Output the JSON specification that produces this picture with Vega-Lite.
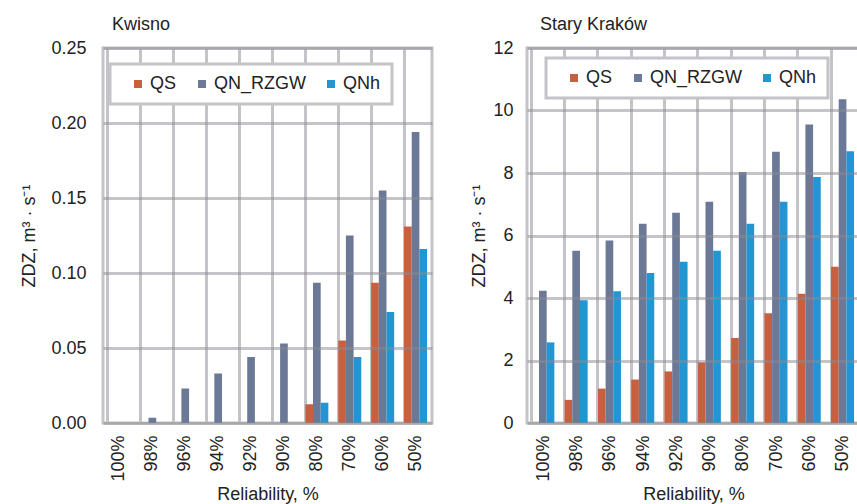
{
  "$schema": "https://vega.github.io/schema/vega-lite/v6.json",
  "padding": {"left": 19, "top": 14, "right": 0, "bottom": 0},
  "background": "white",
  "spacing": 35,
  "config": {
    "font": "Liberation Sans",
    "view": {"stroke": "#c4c4c8", "strokeWidth": 3},
    "axis": {
      "labelFont": "Liberation Sans",
      "titleFont": "Liberation Sans",
      "labelFontSize": 18,
      "titleFontSize": 18,
      "titleFontWeight": "normal",
      "labelColor": "#222",
      "titleColor": "#222",
      "ticks": false,
      "domain": false
    },
    "legend": {
      "labelFont": "Liberation Sans",
      "labelFontSize": 18,
      "labelColor": "#222",
      "strokeWidth": 3
    },
    "title": {"font": "Liberation Sans", "fontSize": 18, "fontWeight": "normal", "color": "#222", "anchor": "start", "frame": "group"}
  },
  "datasets": {
    "kwisno": [
      {"rel": "100%", "series": "QS", "value": 0},
      {"rel": "100%", "series": "QN_RZGW", "value": 0},
      {"rel": "100%", "series": "QNh", "value": 0},
      {"rel": "98%", "series": "QS", "value": 0},
      {"rel": "98%", "series": "QN_RZGW", "value": 0.0035},
      {"rel": "98%", "series": "QNh", "value": 0},
      {"rel": "96%", "series": "QS", "value": 0},
      {"rel": "96%", "series": "QN_RZGW", "value": 0.023},
      {"rel": "96%", "series": "QNh", "value": 0},
      {"rel": "94%", "series": "QS", "value": 0},
      {"rel": "94%", "series": "QN_RZGW", "value": 0.033},
      {"rel": "94%", "series": "QNh", "value": 0},
      {"rel": "92%", "series": "QS", "value": 0},
      {"rel": "92%", "series": "QN_RZGW", "value": 0.044},
      {"rel": "92%", "series": "QNh", "value": 0},
      {"rel": "90%", "series": "QS", "value": 0},
      {"rel": "90%", "series": "QN_RZGW", "value": 0.053},
      {"rel": "90%", "series": "QNh", "value": 0},
      {"rel": "80%", "series": "QS", "value": 0.0125},
      {"rel": "80%", "series": "QN_RZGW", "value": 0.0935},
      {"rel": "80%", "series": "QNh", "value": 0.0135},
      {"rel": "70%", "series": "QS", "value": 0.055},
      {"rel": "70%", "series": "QN_RZGW", "value": 0.125},
      {"rel": "70%", "series": "QNh", "value": 0.044},
      {"rel": "60%", "series": "QS", "value": 0.0935},
      {"rel": "60%", "series": "QN_RZGW", "value": 0.155},
      {"rel": "60%", "series": "QNh", "value": 0.074},
      {"rel": "50%", "series": "QS", "value": 0.131},
      {"rel": "50%", "series": "QN_RZGW", "value": 0.194},
      {"rel": "50%", "series": "QNh", "value": 0.116}
    ],
    "krakow": [
      {"rel": "100%", "series": "QS", "value": 0},
      {"rel": "100%", "series": "QN_RZGW", "value": 4.23},
      {"rel": "100%", "series": "QNh", "value": 2.58},
      {"rel": "98%", "series": "QS", "value": 0.74},
      {"rel": "98%", "series": "QN_RZGW", "value": 5.51},
      {"rel": "98%", "series": "QNh", "value": 3.93},
      {"rel": "96%", "series": "QS", "value": 1.1},
      {"rel": "96%", "series": "QN_RZGW", "value": 5.84},
      {"rel": "96%", "series": "QNh", "value": 4.22},
      {"rel": "94%", "series": "QS", "value": 1.39},
      {"rel": "94%", "series": "QN_RZGW", "value": 6.38},
      {"rel": "94%", "series": "QNh", "value": 4.8},
      {"rel": "92%", "series": "QS", "value": 1.65},
      {"rel": "92%", "series": "QN_RZGW", "value": 6.73},
      {"rel": "92%", "series": "QNh", "value": 5.16},
      {"rel": "90%", "series": "QS", "value": 1.94},
      {"rel": "90%", "series": "QN_RZGW", "value": 7.08},
      {"rel": "90%", "series": "QNh", "value": 5.51},
      {"rel": "80%", "series": "QS", "value": 2.72},
      {"rel": "80%", "series": "QN_RZGW", "value": 8.03},
      {"rel": "80%", "series": "QNh", "value": 6.38},
      {"rel": "70%", "series": "QS", "value": 3.51},
      {"rel": "70%", "series": "QN_RZGW", "value": 8.68},
      {"rel": "70%", "series": "QNh", "value": 7.08},
      {"rel": "60%", "series": "QS", "value": 4.14},
      {"rel": "60%", "series": "QN_RZGW", "value": 9.55},
      {"rel": "60%", "series": "QNh", "value": 7.87},
      {"rel": "50%", "series": "QS", "value": 5.0},
      {"rel": "50%", "series": "QN_RZGW", "value": 10.36},
      {"rel": "50%", "series": "QNh", "value": 8.7}
    ]
  },
  "resolve": {"scale": {"y": "independent", "color": "independent"}, "legend": {"color": "independent"}},
  "hconcat": [
    {
      "title": {"text": "Kwisno", "offset": 5, "dx": 9},
      "width": 329,
      "height": 375,
      "data": {"name": "kwisno"},
      "mark": {"type": "bar"},
      "encoding": {
        "x": {
          "field": "rel", "type": "nominal", "sort": null,
          "scale": {"paddingInner": 0.3, "paddingOuter": 0.15},
          "axis": {"title": "Reliability, %", "labelAngle": -90, "labelPadding": 12, "titlePadding": 4,
                   "grid": true, "bandPosition": 0, "gridColor": "#c4c4c8", "gridWidth": 3}
        },
        "xOffset": {"field": "series", "type": "nominal", "sort": ["QS", "QN_RZGW", "QNh"], "scale": {"paddingInner": 0}},
        "y": {
          "field": "value", "type": "quantitative",
          "scale": {"domain": [0, 0.25], "nice": false},
          "axis": {"title": "ZDZ, m³ · s⁻¹", "format": ".2f", "values": [0, 0.05, 0.1, 0.15, 0.2, 0.25],
                   "labelPadding": 17, "titlePadding": 12, "grid": true, "gridColor": "#8a8a94", "gridOpacity": 0.5, "gridWidth": 3, "zindex": 1}
        },
        "color": {
          "field": "series", "type": "nominal",
          "scale": {"domain": ["QS", "QN_RZGW", "QNh"], "range": ["#c8603f", "#6b7896", "#2196d3"]},
          "legend": {"title": null, "orient": "none", "legendX": 7, "legendY": 16, "direction": "horizontal",
                     "fillColor": "white", "strokeColor": "#c4c4c8", "padding": 11,
                     "symbolType": "square", "symbolSize": 64, "symbolStrokeWidth": 0, "columnPadding": 8, "labelOffset": 3, "symbolOffset": 8}
        }
      }
    },
    {
      "title": {"text": "Stary Kraków", "offset": 5, "dx": 13},
      "width": 333,
      "height": 375,
      "data": {"name": "krakow"},
      "mark": {"type": "bar"},
      "encoding": {
        "x": {
          "field": "rel", "type": "nominal", "sort": null,
          "scale": {"paddingInner": 0.26, "paddingOuter": 0.13},
          "axis": {"title": "Reliability, %", "labelAngle": -90, "labelPadding": 12, "titlePadding": 4,
                   "grid": true, "bandPosition": 0, "gridColor": "#c4c4c8", "gridWidth": 3}
        },
        "xOffset": {"field": "series", "type": "nominal", "sort": ["QS", "QN_RZGW", "QNh"], "scale": {"paddingInner": 0}},
        "y": {
          "field": "value", "type": "quantitative",
          "scale": {"domain": [0, 12], "nice": false},
          "axis": {"title": "ZDZ, m³ · s⁻¹", "values": [0, 2, 4, 6, 8, 10, 12],
                   "labelPadding": 14, "titlePadding": 4, "grid": true, "gridColor": "#8a8a94", "gridOpacity": 0.5, "gridWidth": 3, "zindex": 1}
        },
        "color": {
          "field": "series", "type": "nominal",
          "scale": {"domain": ["QS", "QN_RZGW", "QNh"], "range": ["#c8603f", "#6b7896", "#2196d3"]},
          "legend": {"title": null, "orient": "none", "legendX": 19, "legendY": 10, "direction": "horizontal",
                     "fillColor": "white", "strokeColor": "#c4c4c8", "padding": 11,
                     "symbolType": "square", "symbolSize": 64, "symbolStrokeWidth": 0, "columnPadding": 8, "labelOffset": 3, "symbolOffset": 8}
        }
      }
    }
  ]
}
